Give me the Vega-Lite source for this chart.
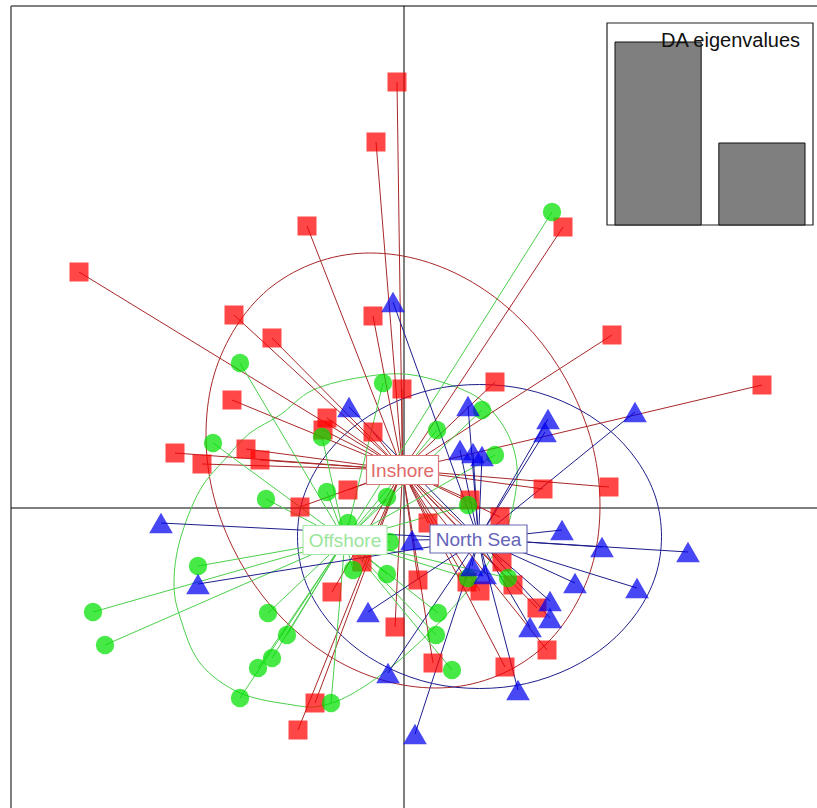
{
  "$schema": "https://vega.github.io/schema/vega-lite/v6.json",
  "width": 806,
  "height": 802,
  "autosize": {"type": "none"},
  "padding": {"left": 11, "top": 6, "right": 0, "bottom": 0},
  "background": "white",
  "config": {"view": {"stroke": null}, "font": "Liberation Sans"},
  "datasets": {
    "pts": [
      {"group":"Inshore","LD1":-0.14,"LD2":8.52},{"group":"Inshore","LD1":-0.56,"LD2":7.32},{"group":"Inshore","LD1":-1.94,"LD2":5.64},{"group":"Inshore","LD1":-6.50,"LD2":4.72},{"group":"Inshore","LD1":-3.40,"LD2":3.86},{"group":"Inshore","LD1":-2.64,"LD2":3.40},{"group":"Inshore","LD1":-0.62,"LD2":3.84},{"group":"Inshore","LD1":-3.44,"LD2":2.16},{"group":"Inshore","LD1":-0.04,"LD2":2.38},{"group":"Inshore","LD1":3.18,"LD2":5.62},{"group":"Inshore","LD1":4.16,"LD2":3.46},{"group":"Inshore","LD1":1.82,"LD2":2.52},{"group":"Inshore","LD1":7.16,"LD2":2.46},{"group":"Inshore","LD1":-1.54,"LD2":1.80},{"group":"Inshore","LD1":-1.62,"LD2":1.56},{"group":"Inshore","LD1":-0.62,"LD2":1.52},{"group":"Inshore","LD1":-4.58,"LD2":1.10},{"group":"Inshore","LD1":-4.04,"LD2":0.88},{"group":"Inshore","LD1":-3.16,"LD2":1.18},{"group":"Inshore","LD1":-2.88,"LD2":0.96},{"group":"Inshore","LD1":-1.12,"LD2":0.36},{"group":"Inshore","LD1":-2.08,"LD2":0.02},{"group":"Inshore","LD1":-0.84,"LD2":-1.08},{"group":"Inshore","LD1":-1.44,"LD2":-1.68},{"group":"Inshore","LD1":-0.18,"LD2":-2.38},{"group":"Inshore","LD1":-1.78,"LD2":-3.90},{"group":"Inshore","LD1":-2.12,"LD2":-4.44},{"group":"Inshore","LD1":1.32,"LD2":0.16},{"group":"Inshore","LD1":1.92,"LD2":-0.18},{"group":"Inshore","LD1":2.78,"LD2":0.38},{"group":"Inshore","LD1":4.10,"LD2":0.42},{"group":"Inshore","LD1":0.48,"LD2":-0.30},{"group":"Inshore","LD1":0.28,"LD2":-1.44},{"group":"Inshore","LD1":1.96,"LD2":-1.08},{"group":"Inshore","LD1":1.26,"LD2":-1.48},{"group":"Inshore","LD1":1.52,"LD2":-1.66},{"group":"Inshore","LD1":2.18,"LD2":-1.54},{"group":"Inshore","LD1":2.66,"LD2":-2.00},{"group":"Inshore","LD1":2.86,"LD2":-2.84},{"group":"Inshore","LD1":0.58,"LD2":-3.10},{"group":"Inshore","LD1":2.02,"LD2":-3.18},
      {"group":"Offshore","LD1":2.96,"LD2":5.92},{"group":"Offshore","LD1":-3.28,"LD2":2.90},{"group":"Offshore","LD1":-0.42,"LD2":2.50},{"group":"Offshore","LD1":-3.82,"LD2":1.30},{"group":"Offshore","LD1":-1.64,"LD2":1.42},{"group":"Offshore","LD1":-2.76,"LD2":0.18},{"group":"Offshore","LD1":-1.54,"LD2":0.32},{"group":"Offshore","LD1":-0.34,"LD2":0.22},{"group":"Offshore","LD1":-1.12,"LD2":-0.30},{"group":"Offshore","LD1":-0.28,"LD2":-0.68},{"group":"Offshore","LD1":-1.02,"LD2":-1.24},{"group":"Offshore","LD1":-0.34,"LD2":-1.32},{"group":"Offshore","LD1":-4.12,"LD2":-1.16},{"group":"Offshore","LD1":-6.22,"LD2":-2.08},{"group":"Offshore","LD1":-5.98,"LD2":-2.74},{"group":"Offshore","LD1":-2.72,"LD2":-2.10},{"group":"Offshore","LD1":-2.34,"LD2":-2.54},{"group":"Offshore","LD1":-2.64,"LD2":-3.00},{"group":"Offshore","LD1":-2.92,"LD2":-3.20},{"group":"Offshore","LD1":-3.28,"LD2":-3.80},{"group":"Offshore","LD1":-1.46,"LD2":-3.90},{"group":"Offshore","LD1":1.56,"LD2":1.96},{"group":"Offshore","LD1":0.66,"LD2":1.56},{"group":"Offshore","LD1":1.82,"LD2":1.06},{"group":"Offshore","LD1":1.28,"LD2":0.06},{"group":"Offshore","LD1":0.68,"LD2":-2.10},{"group":"Offshore","LD1":0.64,"LD2":-2.54},{"group":"Offshore","LD1":0.96,"LD2":-3.24},{"group":"Offshore","LD1":2.08,"LD2":-1.40},{"group":"Offshore","LD1":1.28,"LD2":-1.40},
      {"group":"North Sea","LD1":-0.22,"LD2":4.12},{"group":"North Sea","LD1":-1.10,"LD2":2.02},{"group":"North Sea","LD1":-4.86,"LD2":-0.30},{"group":"North Sea","LD1":-4.12,"LD2":-1.52},{"group":"North Sea","LD1":-0.72,"LD2":-2.08},{"group":"North Sea","LD1":-0.32,"LD2":-3.30},{"group":"North Sea","LD1":0.22,"LD2":-4.52},{"group":"North Sea","LD1":1.28,"LD2":2.04},{"group":"North Sea","LD1":2.88,"LD2":1.78},{"group":"North Sea","LD1":2.82,"LD2":1.52},{"group":"North Sea","LD1":4.62,"LD2":1.92},{"group":"North Sea","LD1":1.12,"LD2":1.16},{"group":"North Sea","LD1":1.38,"LD2":1.10},{"group":"North Sea","LD1":1.56,"LD2":1.04},{"group":"North Sea","LD1":0.16,"LD2":-0.64},{"group":"North Sea","LD1":3.16,"LD2":-0.44},{"group":"North Sea","LD1":3.96,"LD2":-0.78},{"group":"North Sea","LD1":5.68,"LD2":-0.88},{"group":"North Sea","LD1":3.42,"LD2":-1.50},{"group":"North Sea","LD1":4.66,"LD2":-1.60},{"group":"North Sea","LD1":1.36,"LD2":-1.16},{"group":"North Sea","LD1":1.62,"LD2":-1.32},{"group":"North Sea","LD1":2.92,"LD2":-1.86},{"group":"North Sea","LD1":2.92,"LD2":-2.20},{"group":"North Sea","LD1":2.52,"LD2":-2.38},{"group":"North Sea","LD1":2.28,"LD2":-3.64}
    ],
    "centroids": [
      {"group":"Inshore","cLD1":-0.03,"cLD2":0.76},
      {"group":"Offshore","cLD1":-1.18,"cLD2":-0.64},
      {"group":"North Sea","cLD1":1.49,"cLD2":-0.62}
    ],
    "ellipses": [
      {"group":"Inshore","i":0,"LD1":3.92,"LD2":0.04},{"group":"Inshore","i":1,"LD1":3.79,"LD2":1.17},{"group":"Inshore","i":2,"LD1":3.39,"LD2":2.28},{"group":"Inshore","i":3,"LD1":2.77,"LD2":3.28},{"group":"Inshore","i":4,"LD1":1.95,"LD2":4.11},{"group":"Inshore","i":5,"LD1":1.00,"LD2":4.71},{"group":"Inshore","i":6,"LD1":-0.02,"LD2":5.04},{"group":"Inshore","i":7,"LD1":-1.04,"LD2":5.08},{"group":"Inshore","i":8,"LD1":-1.99,"LD2":4.82},{"group":"Inshore","i":9,"LD1":-2.81,"LD2":4.29},{"group":"Inshore","i":10,"LD1":-3.43,"LD2":3.51},{"group":"Inshore","i":11,"LD1":-3.83,"LD2":2.55},{"group":"Inshore","i":12,"LD1":-3.96,"LD2":1.46},{"group":"Inshore","i":13,"LD1":-3.83,"LD2":0.33},{"group":"Inshore","i":14,"LD1":-3.43,"LD2":-0.78},{"group":"Inshore","i":15,"LD1":-2.81,"LD2":-1.78},{"group":"Inshore","i":16,"LD1":-1.99,"LD2":-2.61},{"group":"Inshore","i":17,"LD1":-1.04,"LD2":-3.21},{"group":"Inshore","i":18,"LD1":-0.02,"LD2":-3.54},{"group":"Inshore","i":19,"LD1":1.00,"LD2":-3.58},{"group":"Inshore","i":20,"LD1":1.95,"LD2":-3.32},{"group":"Inshore","i":21,"LD1":2.77,"LD2":-2.79},{"group":"Inshore","i":22,"LD1":3.39,"LD2":-2.01},{"group":"Inshore","i":23,"LD1":3.79,"LD2":-1.05},
      {"group":"Offshore","i":0,"LD1":-2.48,"LD2":1.86},{"group":"Offshore","i":1,"LD1":-1.82,"LD2":2.36},{"group":"Offshore","i":2,"LD1":-0.82,"LD2":2.62},{"group":"Offshore","i":3,"LD1":0.18,"LD2":2.66},{"group":"Offshore","i":4,"LD1":1.32,"LD2":2.30},{"group":"Offshore","i":5,"LD1":1.86,"LD2":1.82},{"group":"Offshore","i":6,"LD1":2.18,"LD2":1.22},{"group":"Offshore","i":7,"LD1":2.26,"LD2":0.56},{"group":"Offshore","i":8,"LD1":2.08,"LD2":-0.34},{"group":"Offshore","i":9,"LD1":1.72,"LD2":-1.04},{"group":"Offshore","i":10,"LD1":1.32,"LD2":-1.60},{"group":"Offshore","i":11,"LD1":0.52,"LD2":-2.48},{"group":"Offshore","i":12,"LD1":-0.28,"LD2":-3.20},{"group":"Offshore","i":13,"LD1":-1.08,"LD2":-3.74},{"group":"Offshore","i":14,"LD1":-1.68,"LD2":-3.96},{"group":"Offshore","i":15,"LD1":-2.22,"LD2":-3.94},{"group":"Offshore","i":16,"LD1":-3.28,"LD2":-3.70},{"group":"Offshore","i":17,"LD1":-4.08,"LD2":-3.10},{"group":"Offshore","i":18,"LD1":-4.48,"LD2":-2.18},{"group":"Offshore","i":19,"LD1":-4.60,"LD2":-1.50},{"group":"Offshore","i":20,"LD1":-4.48,"LD2":-0.64},{"group":"Offshore","i":21,"LD1":-4.08,"LD2":0.36},{"group":"Offshore","i":22,"LD1":-3.54,"LD2":1.02},{"group":"Offshore","i":23,"LD1":-3.08,"LD2":1.50},
      {"group":"North Sea","i":0,"LD1":5.15,"LD2":-0.57},{"group":"North Sea","i":1,"LD1":5.03,"LD2":0.22},{"group":"North Sea","i":2,"LD1":4.66,"LD2":0.95},{"group":"North Sea","i":3,"LD1":4.08,"LD2":1.58},{"group":"North Sea","i":4,"LD1":3.33,"LD2":2.06},{"group":"North Sea","i":5,"LD1":2.45,"LD2":2.37},{"group":"North Sea","i":6,"LD1":1.51,"LD2":2.47},{"group":"North Sea","i":7,"LD1":0.57,"LD2":2.37},{"group":"North Sea","i":8,"LD1":-0.31,"LD2":2.06},{"group":"North Sea","i":9,"LD1":-1.06,"LD2":1.58},{"group":"North Sea","i":10,"LD1":-1.64,"LD2":0.95},{"group":"North Sea","i":11,"LD1":-2.01,"LD2":0.22},{"group":"North Sea","i":12,"LD1":-2.13,"LD2":-0.57},{"group":"North Sea","i":13,"LD1":-2.01,"LD2":-1.36},{"group":"North Sea","i":14,"LD1":-1.64,"LD2":-2.09},{"group":"North Sea","i":15,"LD1":-1.06,"LD2":-2.72},{"group":"North Sea","i":16,"LD1":-0.31,"LD2":-3.20},{"group":"North Sea","i":17,"LD1":0.57,"LD2":-3.51},{"group":"North Sea","i":18,"LD1":1.51,"LD2":-3.61},{"group":"North Sea","i":19,"LD1":2.45,"LD2":-3.51},{"group":"North Sea","i":20,"LD1":3.33,"LD2":-3.20},{"group":"North Sea","i":21,"LD1":4.08,"LD2":-2.72},{"group":"North Sea","i":22,"LD1":4.66,"LD2":-2.09},{"group":"North Sea","i":23,"LD1":5.03,"LD2":-1.36}
    ],
    "eig": [
      {"axis":"LD1","eigenvalue":183},
      {"axis":"LD2","eigenvalue":82}
    ]
  },
  "resolve": {"scale": {"x": "independent", "y": "independent", "color": "independent", "shape": "independent", "size": "independent", "stroke": "independent", "fill": "independent"}},
  "layer": [
    {
      "data": {"values": [{"edge": -7.86}]},
      "mark": {"type": "rule", "color": "#555555", "strokeWidth": 1.5},
      "encoding": {
        "x": {"field": "edge", "type": "quantitative", "scale": {"domain": [-7.86, 8.26], "nice": false, "zero": false}, "axis": null}
      }
    },
    {
      "data": {"values": [{"edge": 10.04}]},
      "mark": {"type": "rule", "color": "#555555", "strokeWidth": 1.5},
      "encoding": {
        "y": {"field": "edge", "type": "quantitative", "scale": {"domain": [-6.0, 10.04], "nice": false, "zero": false}, "axis": null}
      }
    },
    {
      "data": {"values": [{"origin": 0}]},
      "mark": {"type": "rule", "color": "black", "strokeWidth": 1},
      "encoding": {
        "x": {"field": "origin", "type": "quantitative", "scale": {"domain": [-7.86, 8.26], "nice": false, "zero": false}, "axis": null}
      }
    },
    {
      "data": {"values": [{"origin": 0}]},
      "mark": {"type": "rule", "color": "black", "strokeWidth": 1},
      "encoding": {
        "y": {"field": "origin", "type": "quantitative", "scale": {"domain": [-6.0, 10.04], "nice": false, "zero": false}, "axis": null}
      }
    },
    {
      "data": {"name": "ellipses"},
      "mark": {"type": "line", "interpolate": "cardinal-closed", "strokeWidth": 1},
      "encoding": {
        "x": {"field": "LD1", "type": "quantitative", "scale": {"domain": [-7.86, 8.26], "nice": false, "zero": false}, "axis": null},
        "y": {"field": "LD2", "type": "quantitative", "scale": {"domain": [-6.0, 10.04], "nice": false, "zero": false}, "axis": null},
        "detail": {"field": "group"},
        "order": {"field": "i", "type": "quantitative"},
        "color": {"field": "group", "type": "nominal", "scale": {"domain": ["Inshore", "Offshore", "North Sea"], "range": ["#A82828", "#4CCF4C", "#1E1E8C"]}, "legend": null}
      }
    },
    {
      "data": {"name": "pts"},
      "transform": [{"lookup": "group", "from": {"data": {"name": "centroids"}, "key": "group", "fields": ["cLD1", "cLD2"]}}],
      "mark": {"type": "rule", "strokeWidth": 1},
      "encoding": {
        "x": {"field": "LD1", "type": "quantitative", "scale": {"domain": [-7.86, 8.26], "nice": false, "zero": false}, "axis": null},
        "y": {"field": "LD2", "type": "quantitative", "scale": {"domain": [-6.0, 10.04], "nice": false, "zero": false}, "axis": null},
        "x2": {"field": "cLD1"},
        "y2": {"field": "cLD2"},
        "color": {"field": "group", "type": "nominal", "scale": {"domain": ["Inshore", "Offshore", "North Sea"], "range": ["#A82828", "#4CCF4C", "#1E1E8C"]}, "legend": null}
      }
    },
    {
      "data": {"name": "pts"},
      "mark": {"type": "point", "filled": true, "opacity": 0.72, "strokeWidth": 0},
      "encoding": {
        "x": {"field": "LD1", "type": "quantitative", "scale": {"domain": [-7.86, 8.26], "nice": false, "zero": false}, "axis": null},
        "y": {"field": "LD2", "type": "quantitative", "scale": {"domain": [-6.0, 10.04], "nice": false, "zero": false}, "axis": null},
        "color": {"field": "group", "type": "nominal", "scale": {"domain": ["Inshore", "Offshore", "North Sea"], "range": ["#FF0000", "#00E000", "#0000F0"]}, "legend": null},
        "shape": {"field": "group", "type": "nominal", "scale": {"domain": ["Inshore", "Offshore", "North Sea"], "range": ["square", "circle", "triangle-up"]}, "legend": null},
        "size": {"field": "group", "type": "nominal", "scale": {"type": "ordinal", "domain": ["Inshore", "Offshore", "North Sea"], "range": [361, 340, 560]}, "legend": null}
      }
    },
    {
      "data": {"name": "centroids"},
      "mark": {"type": "point", "filled": false, "fill": "white", "fillOpacity": 1, "opacity": 1, "strokeWidth": 1.2, "size": 10000},
      "encoding": {
        "x": {"field": "cLD1", "type": "quantitative", "scale": {"domain": [-7.86, 8.26], "nice": false, "zero": false}, "axis": null},
        "y": {"field": "cLD2", "type": "quantitative", "scale": {"domain": [-6.0, 10.04], "nice": false, "zero": false}, "axis": null},
        "stroke": {"field": "group", "type": "nominal", "scale": {"domain": ["Inshore", "Offshore", "North Sea"], "range": ["#D87878", "#A8E8A8", "#6A6AB4"]}, "legend": null},
        "shape": {"field": "group", "type": "nominal", "scale": {"domain": ["Inshore", "Offshore", "North Sea"], "range": ["M-0.72,-0.29L0.72,-0.29L0.72,0.29L-0.72,0.29Z", "M-0.84,-0.29L0.84,-0.29L0.84,0.29L-0.84,0.29Z", "M-0.97,-0.28L0.97,-0.28L0.97,0.28L-0.97,0.28Z"]}, "legend": null}
      }
    },
    {
      "data": {"name": "centroids"},
      "mark": {"type": "text", "fontSize": 19, "align": "center", "baseline": "middle", "dy": 1},
      "encoding": {
        "x": {"field": "cLD1", "type": "quantitative", "scale": {"domain": [-7.86, 8.26], "nice": false, "zero": false}, "axis": null},
        "y": {"field": "cLD2", "type": "quantitative", "scale": {"domain": [-6.0, 10.04], "nice": false, "zero": false}, "axis": null},
        "text": {"field": "group"},
        "color": {"field": "group", "type": "nominal", "scale": {"domain": ["Inshore", "Offshore", "North Sea"], "range": ["#E06A6A", "#9BE69B", "#6464B8"]}, "legend": null}
      }
    },
    {
      "data": {"values": [{"left": 0, "right": 1, "bottom": 0, "top": 1}]},
      "mark": {"type": "rect", "fill": "white", "stroke": "#222222", "strokeWidth": 1.2},
      "encoding": {
        "x": {"field": "left", "type": "quantitative", "scale": {"domain": [0, 1], "range": [596, 802], "nice": false, "zero": false}, "axis": null},
        "x2": {"field": "right"},
        "y": {"field": "bottom", "type": "quantitative", "scale": {"domain": [0, 1], "range": [219, 17], "nice": false, "zero": false}, "axis": null},
        "y2": {"field": "top"}
      }
    },
    {
      "data": {"name": "eig"},
      "mark": {"type": "bar", "fill": "#7F7F7F", "stroke": "#111111", "strokeWidth": 1},
      "encoding": {
        "x": {"field": "axis", "type": "nominal", "scale": {"type": "band", "range": [596, 802], "paddingInner": 0.17, "paddingOuter": 0.077}, "axis": null},
        "y": {"field": "eigenvalue", "type": "quantitative", "scale": {"domain": [0, 183], "range": [219, 36], "nice": false, "zero": true}, "axis": null}
      }
    },
    {
      "data": {"values": [{"title": "DA eigenvalues", "px": 0.6, "py": 0.91}]},
      "mark": {"type": "text", "fontSize": 20, "align": "center", "baseline": "middle", "color": "#111111"},
      "encoding": {
        "x": {"field": "px", "type": "quantitative", "scale": {"domain": [0, 1], "range": [596, 802], "nice": false, "zero": false}, "axis": null},
        "y": {"field": "py", "type": "quantitative", "scale": {"domain": [0, 1], "range": [219, 17], "nice": false, "zero": false}, "axis": null},
        "text": {"field": "title"}
      }
    }
  ]
}
